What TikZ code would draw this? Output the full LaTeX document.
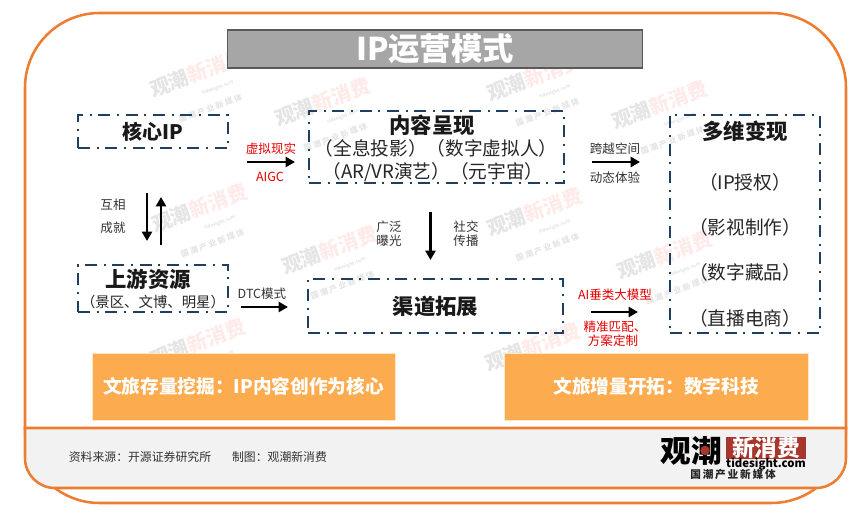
\documentclass[tikz,border=0pt]{standalone}
\usepackage{fontspec}
\setmainfont{Noto Sans CJK SC}
\usetikzlibrary{arrows.meta}
\definecolor{orangeline}{HTML}{ED7D31}
\definecolor{dashblue}{HTML}{1F3F60}
\definecolor{boxorange}{HTML}{FCAB4E}
\definecolor{logored}{HTML}{A9362C}
\newcommand{\fs}[1]{\fontsize{#1}{#1}\selectfont}
\tikzset{
  wh/.style 2 args={minimum width=#1*0.75pt,minimum height=#2*0.75pt,inner sep=0pt,outer sep=0pt},
  dashbox/.style={draw=dashblue,line width=1pt,dash pattern=on 9pt off 5pt on 1.5pt off 5pt},
  flowarrow/.style={draw=black,line width=1.8pt,-{Triangle[length=7pt,width=7.5pt]}},
  txt/.style={inner sep=0pt,outer sep=0pt,align=center},
  head/.style={txt,font=\fs{16}\bfseries,text=black!90},
  item/.style={txt,font=\fs{14},text=black!85},
  small/.style={txt,font=\fs{9.4},text=black!80},
  redsmall/.style={txt,font=\fs{9.4},text=red!90!black},
  banner/.style={fill=boxorange,draw=white!70!boxorange,line width=.5pt,text=white,font=\fs{14}\bfseries},
  wmark/.style={txt,rotate=20,opacity=.4},
}
\newcommand{\wm}[3]{\node[wmark] (#1) at (#2,#3) {{\fs{15}\bfseries\textcolor{black!25}{观潮}\textcolor{red!20}{新消费}}\\[-1pt]{\fs{3.5}\bfseries\hspace*{6em}\textcolor{black!25}{tidesight.com}}\\[2pt]{\fs{6}\bfseries\textcolor{black!25}{国 潮 产 业 新 媒 体}}};}
\begin{document}
\begin{tikzpicture}[x=0.75pt,y=-0.75pt]
\useasboundingbox (0,0) rectangle (865,520);
\fill[white] (0,0) rectangle (865,520);
% outer frame
\draw[orangeline,line width=1.9pt,rounded corners=56pt,fill=white] (25,13) rectangle (846,503);
% watermarks
\wm{w1}{203}{88}
\wm{w2}{328}{117}
\wm{w3}{205}{223}
\wm{w4}{335}{265}
\wm{w5}{540}{92}
\wm{w6}{665}{120}
\wm{w7}{540}{227}
\wm{w8}{670}{270}
\wm{w9}{203}{358}
\wm{w10}{538}{362}
% footer
\draw[orangeline,line width=1.9pt,fill=black!5] (25,428) -- (25,458) .. controls (25,474.6) and (38.4,488) .. (55,488) -- (816,488) .. controls (832.6,488) and (846,474.6) .. (846,458) -- (846,428) -- cycle;
% title
\node[wh={415}{38},fill=black!35,draw=black!65,line width=.8pt,text=white,font=\fs{23.5}\bfseries] (title) at (435,49) {IP运营模式};
% boxes
\node[wh={150}{33},dashbox,text=black!90,font=\fs{15}\bfseries] (core) at (153,131.5) {核心IP};
\node[wh={255}{72},dashbox] (content) at (436.5,147) {};
\node[head] (contenth) at (432,125) {内容呈现};
\node[item] (contentl1) at (436,148) {（全息投影）（数字虚拟人）};
\node[item] (contentl2) at (433,172) {（AR/VR演艺）（元宇宙）};
\node[wh={150}{218},dashbox] (multi) at (745,224) {};
\node[head] (multih) at (745,131) {多维变现};
\node[item] (m1) at (745,182) {（IP授权）};
\node[item] (m2) at (745,227) {（影视制作）};
\node[item] (m3) at (745,272) {（数字藏品）};
\node[item] (m4) at (745,318) {（直播电商）};
\node[wh={150}{47},dashbox] (up) at (153,288.5) {};
\node[head] (uph) at (148,279) {上游资源};
\node[txt,font=\fs{10.8},text=black!85] (upl) at (153,302) {（景区、文博、明星）};
\node[wh={255}{54},dashbox,font=\fs{16}\bfseries,text=black!90] (channel) at (435.5,306) {渠道拓展};
% banners
\node[wh={303}{67},banner] (b1) at (243.5,386.5) {文旅存量挖掘：IP内容创作为核心};
\node[wh={304}{67},banner] (b2) at (656,386.5) {文旅增量开拓：数字科技};
% arrows
\coordinate (a1s) at (247,162); \coordinate (a1e) at (295,162);
\coordinate (a2s) at (147,193); \coordinate (a2e) at (147,241);
\coordinate (a3s) at (161,245); \coordinate (a3e) at (161,197);
\coordinate (a4s) at (430.5,212); \coordinate (a4e) at (430.5,260);
\coordinate (a5s) at (592,162); \coordinate (a5e) at (640,162);
\coordinate (a6s) at (241,307); \coordinate (a6e) at (288,307);
\coordinate (a7s) at (591,312); \coordinate (a7e) at (638,312);
\draw[flowarrow] (a1s) -- (a1e);
\draw[flowarrow] (a2s) -- (a2e);
\draw[flowarrow] (a3s) -- (a3e);
\draw[flowarrow] (a4s) -- (a4e);
\draw[flowarrow] (a5s) -- (a5e);
\draw[flowarrow] (a6s) -- (a6e);
\draw[flowarrow] (a7s) -- (a7e);
% labels
\node[redsmall] (l1) at (271,149) {虚拟现实};
\node[redsmall] (l2) at (270,177) {AIGC};
\node[small] (l3) at (113,205) {互相};
\node[small] (l4) at (113,228) {成就};
\node[small] (l5) at (389,227) {广泛};
\node[small] (l6) at (389,241) {曝光};
\node[small] (l7) at (466,227) {社交};
\node[small] (l8) at (466,241) {传播};
\node[small] (l9) at (615,149) {跨越空间};
\node[small] (l10) at (615,178) {动态体验};
\node[small] (l11) at (262,294) {DTC模式};
\node[redsmall] (l12) at (615,295) {AI垂类大模型};
\node[redsmall] (l13) at (615,327) {精准匹配、};
\node[redsmall] (l14) at (613,341) {方案定制};
% footer text
\node[txt,font=\fs{8.9},text=black!80] (src) at (140,457) {资料来源：开源证券研究所};
\node[txt,font=\fs{8.9},text=black!80] (mk) at (279.5,457) {制图：观潮新消费};
% logo
\node[txt,font=\fs{23}\bfseries,text=black] (lg1) at (691,451) {观潮};
\node[wh={80}{22},fill=logored,text=white,font=\fs{17}\bfseries] (lg2) at (766,448) {新消费};
\node[txt,font=\fs{8.5}\bfseries,text=black] (lg3) at (766,464.5) {tidesight.com};
\node[txt,font=\fs{8}\bfseries,text=black!85] (lg4) at (733,474.5) {国\,潮\,产\,业\,新\,媒\,体};
\fill[logored] (705,450.5) circle (3.5pt);
\end{tikzpicture}
\end{document}
